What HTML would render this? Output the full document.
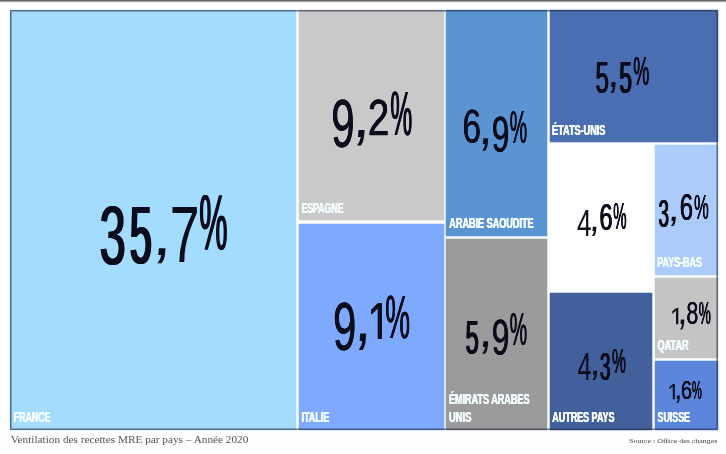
<!DOCTYPE html>
<html lang="fr">
<head>
<meta charset="utf-8">
<title>Ventilation des recettes MRE par pays</title>
<style>
html,body{margin:0;padding:0;}
body{width:726px;height:454px;overflow:hidden;background:#fefefe;position:relative;
  font-family:"Liberation Sans",sans-serif;}
.page{position:absolute;left:0;top:0;width:726px;height:454px;will-change:transform;}
.topbar{position:absolute;left:0;top:0;width:726px;height:3px;
  background:linear-gradient(to bottom,#67645f 0,#67645f 1px,#a3a19e 1px,#a3a19e 2px,#f1f0ef 2px,#f1f0ef 3px);}
.frame{position:absolute;left:10.1px;top:10.3px;width:707.9px;height:419.6px;background:#ffffff;
  box-sizing:border-box;}
.frame-border{position:absolute;left:10.1px;top:10.3px;width:707.9px;height:419.6px;
  box-sizing:border-box;border:1px solid rgba(38,52,76,.64);box-shadow:inset 0 0 0 1px rgba(38,52,76,.36);pointer-events:none;}
.cell{position:absolute;}
.g{position:absolute;left:0;top:0;display:block;font-size:100px;line-height:100px;height:100px;
  transform-origin:0 0;white-space:pre;color:#0b0d1c;}
.lbl{position:absolute;left:0;top:0;display:block;font-size:14px;line-height:14px;height:14px;
  transform-origin:0 0;white-space:pre;color:#f4fcff;font-weight:bold;
  text-shadow:.42px 0 0 #f4fcff,-.42px 0 0 #f4fcff;}
.cap{position:absolute;left:0;top:0;display:block;transform-origin:0 0;white-space:pre;
  font-family:"Liberation Serif",serif;color:#555;}
.src{position:absolute;left:0;top:0;display:block;transform-origin:0 0;white-space:pre;
  font-family:"Liberation Serif",serif;color:#3a3a3a;}
.france{left:10.1px;top:10.3px;width:286.1px;height:419.6px;background:#a3dcff;box-shadow:0 0 1.6px #a3dcff;}
.espagne{left:298.7px;top:10.3px;width:144.9px;height:210.0px;background:#c9c9c9;box-shadow:0 0 1.6px #c9c9c9;}
.italie{left:298.7px;top:223.6px;width:144.9px;height:206.3px;background:#7daaff;box-shadow:0 0 1.6px #7daaff;}
.arabie{left:446.1px;top:10.3px;width:100.8px;height:225.4px;background:#5b94d2;box-shadow:0 0 1.6px #5b94d2;}
.emirats{left:446.1px;top:238.7px;width:100.8px;height:191.2px;background:#9b9b9b;box-shadow:0 0 1.6px #9b9b9b;}
.etats{left:549.6px;top:10.3px;width:168.4px;height:131.7px;background:#4b6eb2;box-shadow:0 0 1.6px #4b6eb2;}
.autres0{left:549.6px;top:145.0px;width:103.4px;height:145.0px;background:#ffffff;box-shadow:0 0 1.6px #ffffff;}
.paysbas{left:655.4px;top:145.2px;width:62.6px;height:129.6px;background:#abcbfa;box-shadow:0 0 1.6px #abcbfa;}
.qatar{left:655.4px;top:277.9px;width:62.6px;height:79.7px;background:#c4c4c4;box-shadow:0 0 1.6px #c4c4c4;}
.autres{left:549.6px;top:292.9px;width:102.9px;height:137.0px;background:#42609b;box-shadow:0 0 1.6px #42609b;}
.suisse{left:655.4px;top:361.0px;width:62.6px;height:68.9px;background:#5c86dc;box-shadow:0 0 1.6px #5c86dc;}
</style>
</head>
<body>
<div class="page">
<div class="topbar"></div>
<div class="frame"></div>
<div class="cell france"></div>
<div class="cell espagne"></div>
<div class="cell italie"></div>
<div class="cell arabie"></div>
<div class="cell emirats"></div>
<div class="cell etats"></div>
<div class="cell autres0"></div>
<div class="cell paysbas"></div>
<div class="cell qatar"></div>
<div class="cell autres"></div>
<div class="cell suisse"></div>
<div class="frame-border"></div>
<div class="num num-france"><span class="g" style="text-shadow:1.72px 0 0 currentColor,-1.72px 0 0 currentColor;transform:matrix(0.4699,0,0,0.8333,99.62,193.15)">3</span><span class="g" style="-webkit-text-stroke:0.03px currentColor;text-shadow:1.45px 0 0 currentColor,-1.45px 0 0 currentColor,2.90px 0 0 currentColor,-2.90px 0 0 currentColor;transform:matrix(0.3944,0,0,0.8094,129.97,193.90)">5</span><span class="g" style="transform:matrix(0.7018,0,-0.0559,0.6387,156.46,200.54)">,</span><span class="g" style="-webkit-text-stroke:0.07px currentColor;transform:matrix(0.5382,0,0,0.8059,169.76,193.97)">7</span><span class="g" style="text-shadow:1.57px 0 0 currentColor,-1.57px 0 0 currentColor;transform:matrix(0.3179,0,0,0.7703,199.37,184.37)">%</span></div>
<div class="num num-espagne"><span class="g" style="text-shadow:0.52px 0 0 currentColor,-0.52px 0 0 currentColor;transform:matrix(0.4213,0,0,0.6780,331.34,89.51)">9</span><span class="g" style="transform:matrix(0.6419,0,-0.0511,0.6642,356.23,81.04)">,</span><span class="g" style="-webkit-text-stroke:1.40px currentColor;text-shadow:0.33px 0 0 currentColor,-0.33px 0 0 currentColor;transform:matrix(0.3821,0,0,0.4998,367.97,92.57)">2</span><span class="g" style="text-shadow:1.25px 0 0 currentColor,-1.25px 0 0 currentColor;transform:matrix(0.2456,0,0,0.6260,390.43,81.83)">%</span></div>
<div class="num num-italie"><span class="g" style="text-shadow:0.55px 0 0 currentColor,-0.55px 0 0 currentColor;transform:matrix(0.4186,0,0,0.6765,333.07,292.93)">9</span><span class="g" style="transform:matrix(0.6334,0,-0.0504,0.7025,358.04,280.80)">,</span><span class="g" style="clip-path:inset(-5px -10px 24.64px -10px);text-shadow:0.52px 0 0 currentColor,-0.52px 0 0 currentColor;transform:matrix(0.4211,0,0,0.6001,367.37,293.48)">1</span><span class="g" style="text-shadow:0.68px 0 0 currentColor,-0.68px 0 0 currentColor;transform:matrix(0.2790,0,0,0.6145,385.19,286.10)">%</span></div>
<div class="num num-arabie"><span class="g" style="text-shadow:0.59px 0 0 currentColor,-0.59px 0 0 currentColor;transform:matrix(0.3360,0,0,0.4760,462.39,102.68)">6</span><span class="g" style="transform:matrix(0.5050,0,-0.0402,0.5365,481.79,98.44)">,</span><span class="g" style="text-shadow:0.90px 0 0 currentColor,-0.90px 0 0 currentColor;transform:matrix(0.3167,0,0,0.4943,491.80,109.70)">9</span><span class="g" style="text-shadow:1.32px 0 0 currentColor,-1.32px 0 0 currentColor;transform:matrix(0.1954,0,0,0.4545,509.76,104.10)">%</span></div>
<div class="num num-emirats"><span class="g" style="text-shadow:1.37px 0 0 currentColor,-1.37px 0 0 currentColor,2.73px 0 0 currentColor,-2.73px 0 0 currentColor;transform:matrix(0.2364,0,0,0.4830,465.60,312.68)">5</span><span class="g" style="transform:matrix(0.5050,0,-0.0402,0.5365,481.79,301.14)">,</span><span class="g" style="text-shadow:0.90px 0 0 currentColor,-0.90px 0 0 currentColor;transform:matrix(0.3167,0,0,0.5042,491.80,312.15)">9</span><span class="g" style="text-shadow:1.32px 0 0 currentColor,-1.32px 0 0 currentColor;transform:matrix(0.1954,0,0,0.4530,509.76,306.83)">%</span></div>
<div class="num num-etats"><span class="g" style="-webkit-text-stroke:0.09px currentColor;text-shadow:2.18px 0 0 currentColor,-2.18px 0 0 currentColor;transform:matrix(0.2411,0,0,0.4452,595.47,55.01)">5</span><span class="g" style="transform:matrix(0.4279,0,-0.0341,0.4769,610.19,45.97)">,</span><span class="g" style="-webkit-text-stroke:0.09px currentColor;text-shadow:1.32px 0 0 currentColor,-1.32px 0 0 currentColor,2.64px 0 0 currentColor,-2.64px 0 0 currentColor;transform:matrix(0.2254,0,0,0.4452,619.40,55.01)">5</span><span class="g" style="text-shadow:1.48px 0 0 currentColor,-1.48px 0 0 currentColor;transform:matrix(0.1794,0,0,0.4059,633.23,50.56)">%</span></div>
<div class="num num-autres0"><span class="g" style="transform:matrix(0.2620,0,0,0.3765,577.10,203.70)">4</span><span class="g" style="transform:matrix(0.3766,0,-0.0300,0.3960,591.55,196.98)">,</span><span class="g" style="-webkit-text-stroke:0.23px currentColor;text-shadow:1.08px 0 0 currentColor,-1.08px 0 0 currentColor;transform:matrix(0.2369,0,0,0.3646,599.38,198.81)">6</span><span class="g" style="text-shadow:1.46px 0 0 currentColor,-1.46px 0 0 currentColor;transform:matrix(0.1499,0,0,0.3630,613.18,198.63)">%</span></div>
<div class="num num-paysbas"><span class="g" style="text-shadow:1.35px 0 0 currentColor,-1.35px 0 0 currentColor,2.70px 0 0 currentColor,-2.70px 0 0 currentColor;transform:matrix(0.1874,0,0,0.3814,658.49,194.61)">3</span><span class="g" style="transform:matrix(0.4279,0,-0.0341,0.3960,670.29,187.58)">,</span><span class="g" style="-webkit-text-stroke:0.23px currentColor;text-shadow:1.02px 0 0 currentColor,-1.02px 0 0 currentColor;transform:matrix(0.2396,0,0,0.3646,679.75,189.41)">6</span><span class="g" style="text-shadow:1.02px 0 0 currentColor,-1.02px 0 0 currentColor;transform:matrix(0.1646,0,0,0.3473,694.08,189.48)">%</span></div>
<div class="num num-autres"><span class="g" style="transform:matrix(0.2520,0,0,0.3852,577.62,346.96)">4</span><span class="g" style="transform:matrix(0.3851,0,-0.0307,0.3960,592.04,341.48)">,</span><span class="g" style="text-shadow:1.35px 0 0 currentColor,-1.35px 0 0 currentColor,2.70px 0 0 currentColor,-2.70px 0 0 currentColor;transform:matrix(0.1874,0,0,0.3814,600.09,348.01)">3</span><span class="g" style="text-shadow:1.25px 0 0 currentColor,-1.25px 0 0 currentColor;transform:matrix(0.1566,0,0,0.3544,612.04,343.27)">%</span></div>
<div class="num num-qatar"><span class="g" style="clip-path:inset(-5px -10px 26.88px -10px);-webkit-text-stroke:0.51px currentColor;transform:matrix(0.2412,0,0,0.2938,670.04,302.71)">1</span><span class="g" style="transform:matrix(0.3595,0,-0.0286,0.4215,679.57,288.48)">,</span><span class="g" style="text-shadow:0.73px 0 0 currentColor,-0.73px 0 0 currentColor;transform:matrix(0.2149,0,0,0.3150,686.42,297.62)">8</span><span class="g" style="text-shadow:1.06px 0 0 currentColor,-1.06px 0 0 currentColor;transform:matrix(0.1359,0,0,0.3044,698.76,298.15)">%</span></div>
<div class="num num-suisse"><span class="g" style="clip-path:inset(-5px -10px 27.55px -10px);-webkit-text-stroke:0.64px currentColor;transform:matrix(0.2159,0,0,0.2545,667.39,380.76)">1</span><span class="g" style="transform:matrix(0.3167,0,-0.0252,0.3193,675.92,371.97)">,</span><span class="g" style="-webkit-text-stroke:0.32px currentColor;text-shadow:0.29px 0 0 currentColor,-0.29px 0 0 currentColor;transform:matrix(0.1998,0,0,0.2643,680.88,376.93)">6</span><span class="g" style="text-shadow:1.41px 0 0 currentColor,-1.41px 0 0 currentColor;transform:matrix(0.1111,0,0,0.2544,691.96,377.43)">%</span></div>
<span class="lbl" style="transform:matrix(0.6293,0,0,1.0798,13.77,409.04)">FRANCE</span>
<span class="lbl" style="transform:matrix(0.6222,0,0,1.0798,301.48,199.64)">ESPAGNE</span>
<span class="lbl" style="transform:matrix(0.6386,0,0,1.0798,301.47,409.04)">ITALIE</span>
<span class="lbl" style="transform:matrix(0.6477,0,0,1.0901,449.35,215.32)">ARABIE SAOUDITE</span>
<span class="lbl" style="transform:matrix(0.6469,0,0,1.0590,448.97,390.89)">ÉMIRATS ARABES</span>
<span class="lbl" style="transform:matrix(0.6687,0,0,1.0798,449.02,409.04)">UNIS</span>
<span class="lbl" style="transform:matrix(0.6502,0,0,1.0694,552.06,122.27)">ÉTATS-UNIS</span>
<span class="lbl" style="transform:matrix(0.6374,0,0,1.0798,657.27,254.04)">PAYS-BAS</span>
<span class="lbl" style="transform:matrix(0.6533,0,0,1.0798,657.50,337.34)">QATAR</span>
<span class="lbl" style="transform:matrix(0.6401,0,0,1.0798,552.25,409.04)">AUTRES PAYS</span>
<span class="lbl" style="transform:matrix(0.6284,0,0,1.0798,657.61,409.04)">SUISSE</span>
<span class="cap" style="font-size:10px;line-height:10px;height:10px;transform:matrix(1.1262,0,0,1,10.67,435.20)">Ventilation des recettes MRE par pays – Année 2020</span>
<span class="src" style="font-size:6.3px;line-height:6.3px;height:6.3px;transform:matrix(1.2573,0,0,1,629.07,438.45)">Source : Office des changes</span>
</div>
</body>
</html>
